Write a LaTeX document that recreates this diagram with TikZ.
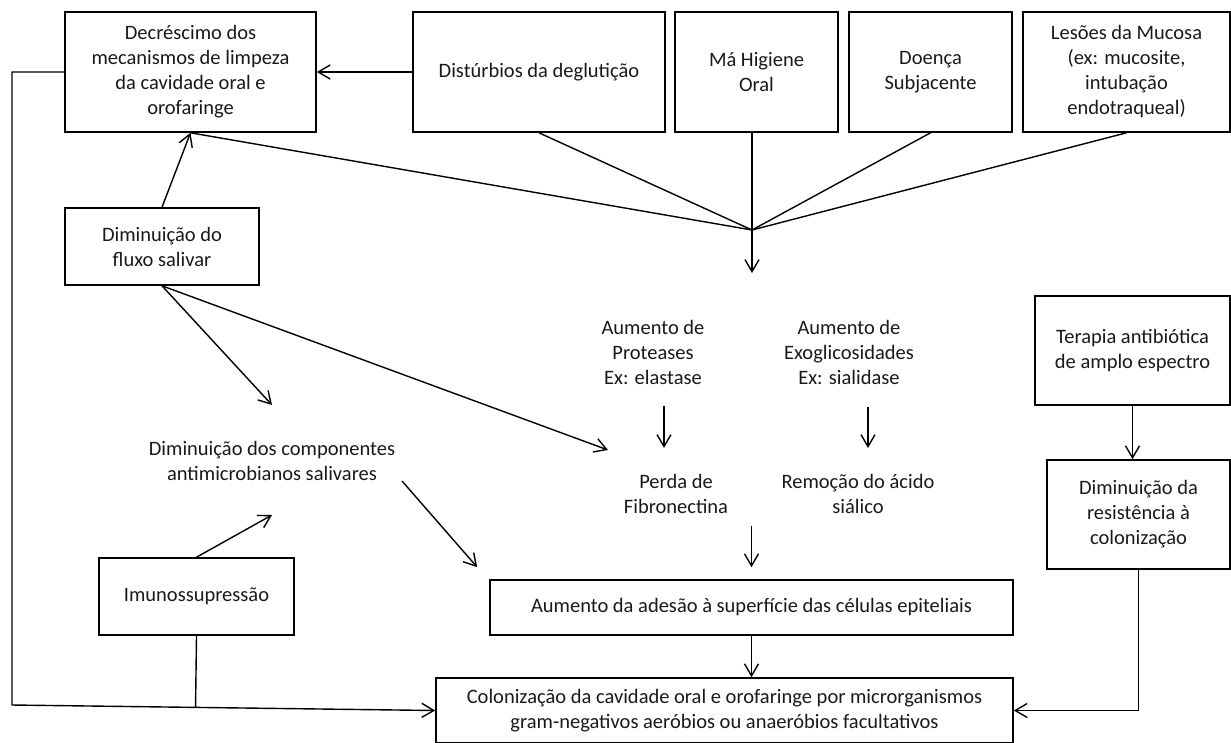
\documentclass[tikz,border=0pt]{standalone}
\usepackage{fontspec}
\setmainfont{Carlito}
\usetikzlibrary{calc,arrows.meta}

\begin{document}
\begin{tikzpicture}[
      x=1pt, y=-1pt,
      box/.style={draw, line width=1.6pt, align=center, inner sep=0pt},
      txt/.style={align=center, inner sep=0pt},
      font=\fontsize{20.5}{25}\selectfont, text=black!90,
      line width=1.4pt, >={Straight Barb[length=12pt,width=14pt]}
      ]
      \useasboundingbox (0,0) rectangle (1231,742);

      \node[box, minimum width=251pt, minimum height=120pt] (decr) at (190.5,72) {Decréscimo dos\\mecanismos de limpeza\\da cavidade oral e\\orofaringe};
      \node[box, minimum width=252pt, minimum height=120pt] (dist) at (539,72) {Distúrbios da deglutição};
      \node[box, minimum width=163pt, minimum height=120pt] (higi) at (756.5,72) {Má Higiene\\Oral};
      \node[box, minimum width=163pt, minimum height=120pt] (doen) at (930.5,72) {Doença\\Subjacente};
      \node[box, minimum width=207pt, minimum height=120pt] (lesa) at (1126.5,72) {Lesões da Mucosa\\(ex: mucosite,\\intubação\\endotraqueal)};
      \node[box, minimum width=194pt, minimum height=77pt] (flux) at (162,246.5) {Diminuição do\\fluxo salivar};
      \node[txt] (comp) at (272,461) {Diminuição dos componentes\\antimicrobianos salivares};
      \node[box, minimum width=195pt, minimum height=77pt] (imun) at (196.5,596.5) {Imunossupressão};
      \node[txt] (prot) at (653,352) {Aumento de\\Proteases\\Ex: elastase};
      \node[txt] (exog) at (849,352) {Aumento de\\Exoglicosidades\\Ex: sialidase};
      \node[txt] (perd) at (676,494) {Perda de\\Fibronectina};
      \node[txt] (remo) at (858,494) {Remoção do ácido\\siálico};
      \node[box, minimum width=523pt, minimum height=55pt] (ades) at (751.5,607.5) {Aumento da adesão à superfície das células epiteliais};
      \node[box, minimum width=577pt, minimum height=65pt] (colo) at (724.5,710.5) {Colonização da cavidade oral e orofaringe por microrganismos\\gram-negativos aeróbios ou anaeróbios facultativos};
      \node[box, minimum width=195pt, minimum height=109pt] (tera) at (1132.5,350.5) {Terapia antibiótica\\de amplo espectro};
      \node[box, minimum width=183pt, minimum height=109pt] (resi) at (1138.5,514.5) {Diminuição da\\resistência à\\colonização};

      \coordinate (conv) at (752,230);
      \coordinate (convtip) at (752,273);
      \coordinate (left) at (12,705);

  % Connect the nodes
  \draw[->] (dist) -- (decr);
  \draw (decr.south) -- (conv);
  \draw (dist.south) -- (conv);
  \draw (higi.south -| conv) -- (conv);
  \draw (doen.south) -- (conv);
  \draw (lesa.south) -- (conv);
  \draw[->] (conv) -- (convtip);
  \draw[->] (flux.north) -- (decr.south);
  \draw[->] (flux.south) -- ([shift={(0,-56)}]comp.center);
  \draw[->] (flux.south) -- ([shift={(-68,-44)}]perd.center);
  \draw[->] ([shift={(11,54)}]prot.center) -- ([shift={(11,96)}]prot.center);
  \draw[->] ([shift={(19,55)}]exog.center) -- ([shift={(19,96)}]exog.center);
  \draw[->] ([yshift=53pt]ades.north) -- ([yshift=12pt]ades.north);
  \draw[->] ([shift={(130,20)}]comp.center) -- ([shift={(-12,-12)}]ades.north west);
  \draw[->] (imun.north) -- ([shift={(0,54)}]comp.center);
  \draw (imun.south) -- ($(left)!(imun.south)!(colo.west)$);
  \draw[->] (decr.west) -| (left) -- (colo.west);
  \draw[->] (tera.south) -- (tera.south |- resi.north);
  \draw[->] (resi.south) |- (colo.east);
  \draw[->] (ades.south) -- (ades.south |- colo.north);

\end{tikzpicture}
\end{document}
